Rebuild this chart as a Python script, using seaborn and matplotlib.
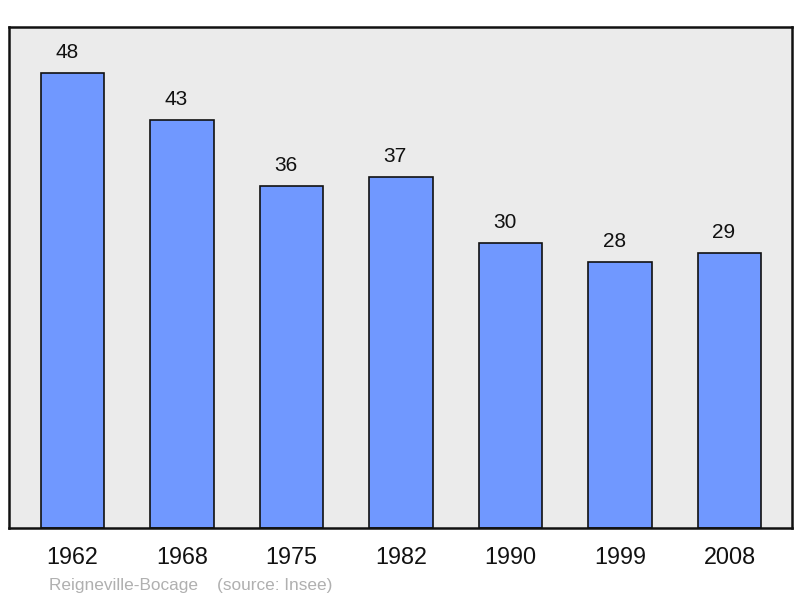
import matplotlib
matplotlib.use("Agg")
import matplotlib.pyplot as plt
import seaborn as sns
import pandas as pd

years = ["1962", "1968", "1975", "1982", "1990", "1999", "2008"]
population = [48, 43, 36, 37, 30, 28, 29]

sns.set_theme(style="white")
plt.rcParams['font.family'] = ['Liberation Sans', 'DejaVu Sans']

df = pd.DataFrame({"year": years, "pop": population})

fig = plt.figure(figsize=(8.0, 5.98), dpi=100)
ax = fig.add_axes([9/800, 1 - 528/598, 783/800, 501/598])
ax.set_facecolor("#ebebeb")

sns.barplot(data=df, x="year", y="pop", ax=ax, color="#7098ff", width=0.58,
            edgecolor="#111111", linewidth=1.2, saturation=1)

ax.set_xlim(-0.58, 6.57)
ax.set_ylim(0, 52.8)
ax.set_yticks([])
ax.set_xlabel("")
ax.set_ylabel("")
ax.tick_params(axis="x", length=0, labelsize=16.8, pad=13, colors="#111111")
for s in ax.spines.values():
    s.set_visible(True)
    s.set_color("#111111")
    s.set_linewidth(1.8)

for i, v in enumerate(population):
    ax.annotate(str(v), xy=(i, v), xytext=(-4.2, 10.8), textcoords="offset points",
                ha="center", va="baseline", fontsize=15, color="#111111")

fig.text(49/800, 1 - 590/598, "Reigneville-Bocage    (source: Insee)", fontsize=12.4,
         color="#b0b0b0", ha="left", va="baseline")

fig.savefig("out.png", dpi=100, facecolor="white")
